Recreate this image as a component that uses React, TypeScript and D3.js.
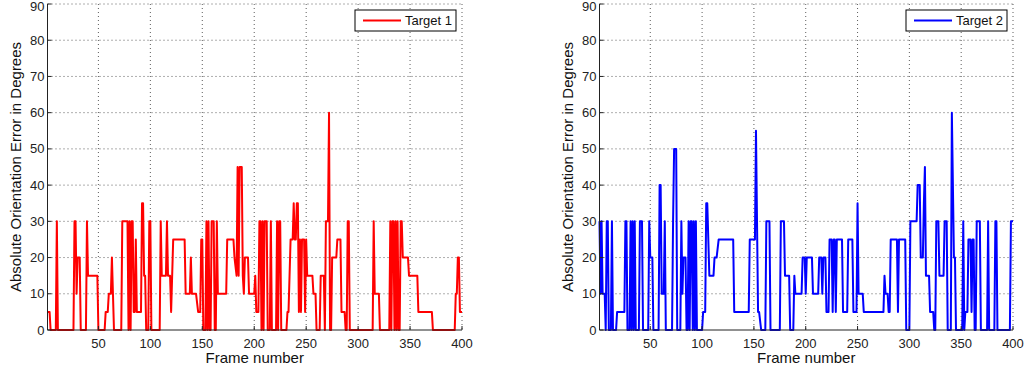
import React from 'react';
import * as d3 from 'd3';

// frame / error pairs (keypoints where the trace turns)
const target1Frames = [1, 3, 4, 9, 10, 11, 26, 27, 28, 29, 30, 32, 33, 38, 39, 40, 49, 50, 56, 57, 59, 60, 62, 63, 64, 65, 72, 73, 78, 79, 80, 81, 82, 83, 84, 85, 86, 87, 91, 92, 93, 94, 95, 96, 98, 99, 100, 101, 109, 110, 111, 115, 116, 117, 119, 120, 122, 133, 134, 138, 139, 140, 144, 146, 148, 149, 150, 151, 153, 154, 155, 156, 157, 158, 159, 161, 162, 163, 164, 165, 173, 174, 180, 181, 183, 184, 185, 186, 188, 189, 190, 191, 194, 195, 200, 201, 202, 204, 205, 206, 207, 208, 209, 210, 212, 213, 215, 216, 217, 221, 222, 223, 224, 225, 226, 231, 232, 233, 235, 237, 238, 239, 240, 241, 242, 243, 244, 245, 246, 248, 249, 250, 251, 256, 257, 259, 260, 263, 264, 267, 268, 269, 271, 272, 273, 274, 275, 279, 280, 283, 284, 287, 288, 289, 290, 291, 292, 314, 315, 316, 320, 321, 330, 331, 332, 333, 334, 335, 336, 337, 338, 339, 340, 341, 342, 343, 348, 349, 357, 358, 371, 372, 393, 394, 395, 396, 397, 398, 400];
const target1Values = [5, 5, 0, 0, 30, 0, 0, 30, 30, 10, 20, 20, 0, 0, 30, 15, 15, 0, 0, 5, 5, 10, 10, 20, 10, 0, 0, 30, 30, 0, 30, 0, 30, 30, 5, 5, 25, 5, 5, 35, 35, 15, 15, 0, 0, 30, 30, 0, 0, 30, 15, 15, 30, 15, 15, 5, 25, 25, 10, 10, 20, 10, 10, 5, 5, 25, 25, 0, 0, 30, 0, 30, 0, 0, 30, 30, 0, 0, 30, 10, 10, 25, 25, 20, 15, 45, 15, 45, 45, 15, 10, 20, 20, 10, 10, 15, 5, 5, 30, 30, 0, 30, 0, 30, 30, 0, 0, 30, 0, 0, 30, 0, 30, 30, 0, 0, 5, 5, 25, 25, 35, 25, 25, 35, 35, 5, 25, 5, 25, 25, 5, 25, 15, 15, 10, 10, 0, 0, 15, 15, 0, 30, 30, 60, 0, 0, 20, 20, 25, 25, 5, 5, 0, 0, 30, 30, 0, 0, 30, 10, 10, 0, 0, 30, 0, 30, 30, 0, 30, 0, 30, 0, 0, 30, 30, 20, 20, 15, 15, 5, 5, 0, 0, 10, 10, 20, 20, 5, 5];

const target2Frames = [1, 2, 3, 4, 6, 7, 8, 9, 10, 12, 13, 14, 17, 18, 25, 26, 27, 28, 30, 31, 32, 33, 34, 35, 36, 39, 40, 42, 43, 48, 49, 50, 52, 53, 58, 59, 60, 61, 63, 64, 65, 71, 72, 73, 75, 76, 79, 80, 81, 82, 84, 85, 86, 87, 88, 89, 90, 91, 92, 93, 94, 95, 100, 101, 103, 104, 105, 107, 111, 112, 114, 116, 130, 131, 145, 146, 151, 152, 154, 155, 157, 161, 162, 165, 166, 175, 176, 179, 180, 184, 185, 188, 189, 190, 196, 197, 199, 200, 201, 206, 207, 212, 213, 215, 216, 217, 219, 220, 222, 223, 225, 226, 227, 228, 229, 230, 235, 236, 240, 241, 245, 246, 249, 250, 251, 255, 256, 275, 276, 277, 279, 280, 281, 282, 288, 289, 290, 296, 297, 300, 301, 307, 308, 310, 311, 313, 314, 315, 316, 319, 320, 323, 324, 325, 326, 328, 329, 333, 334, 336, 337, 340, 341, 343, 344, 345, 351, 352, 353, 354, 356, 357, 359, 360, 361, 362, 363, 364, 365, 368, 369, 375, 376, 377, 382, 383, 384, 385, 397, 398, 400];
const target2Values = [30, 10, 30, 10, 10, 0, 30, 30, 0, 0, 30, 0, 0, 5, 5, 30, 30, 0, 0, 30, 0, 30, 0, 30, 0, 0, 30, 30, 0, 0, 30, 20, 20, 0, 0, 40, 40, 10, 10, 30, 0, 0, 30, 50, 50, 0, 0, 30, 10, 20, 20, 0, 0, 30, 0, 30, 30, 0, 30, 0, 30, 0, 0, 5, 5, 35, 35, 15, 15, 20, 20, 25, 25, 5, 5, 25, 25, 55, 5, 5, 0, 0, 30, 30, 0, 0, 30, 30, 15, 15, 0, 0, 15, 10, 10, 20, 20, 10, 20, 20, 10, 10, 20, 20, 10, 20, 20, 5, 5, 25, 25, 5, 25, 25, 5, 25, 25, 5, 5, 25, 25, 5, 5, 35, 10, 10, 5, 5, 15, 10, 10, 5, 5, 25, 25, 5, 25, 25, 0, 0, 30, 30, 40, 40, 20, 20, 35, 45, 15, 15, 5, 5, 0, 0, 30, 30, 15, 15, 30, 30, 0, 0, 60, 20, 20, 0, 0, 30, 0, 5, 5, 25, 25, 5, 25, 25, 0, 0, 30, 30, 0, 0, 30, 0, 0, 30, 30, 0, 0, 30, 30];

const xTicks = [50, 100, 150, 200, 250, 300, 350, 400];
const yTicks = [0, 10, 20, 30, 40, 50, 60, 70, 80, 90];

const FONT = 'Arial, "Liberation Sans", Helvetica, sans-serif';

type PanelProps = {
  left: number;
  right: number;
  frames: number[];
  values: number[];
  color: string;
  label: string;
};

function Panel({ left, right, frames, values, color, label }: PanelProps) {
  const top = 4;
  const bottom = 330;
  const x = d3.scaleLinear().domain([1, 400]).range([left, right]);
  const y = d3.scaleLinear().domain([0, 90]).range([bottom, top]);
  const pts = frames.map((f, i) => [f, values[i]] as [number, number]);
  const line = d3.line<[number, number]>().x(d => x(d[0])).y(d => y(d[1]));

  const legW = 101;
  const legX = right - 107;
  const legY = 10;

  return (
    <g fontFamily={FONT}>
      {/* dotted grid */}
      {xTicks.map(t => (
        <line key={'gx' + t} x1={x(t)} x2={x(t)} y1={top} y2={bottom}
          stroke="#333" strokeWidth={0.8} strokeDasharray="1 3" />
      ))}
      {yTicks.filter(t => t > 0).map(t => (
        <line key={'gy' + t} x1={left} x2={right} y1={y(t)} y2={y(t)}
          stroke="#333" strokeWidth={0.8} strokeDasharray="1 3" />
      ))}

      <path d={line(pts) || ''} fill="none" stroke={color} strokeWidth={2}
        strokeLinejoin="round" />

      {/* axes */}
      <line x1={left} x2={left} y1={top} y2={bottom} stroke="#222" strokeWidth={1} />
      <line x1={left} x2={right} y1={bottom} y2={bottom} stroke="#222" strokeWidth={1} />
      {xTicks.map(t => (
        <g key={'tx' + t}>
          <line x1={x(t)} x2={x(t)} y1={bottom} y2={bottom - 4} stroke="#222" />
          <text x={x(t)} y={348} fontSize={13} textAnchor="middle" fill="#222">{t}</text>
        </g>
      ))}
      {yTicks.map(t => (
        <g key={'ty' + t}>
          <line x1={left} x2={left + 4} y1={y(t)} y2={y(t)} stroke="#222" />
          <text x={left - 3} y={Math.max(y(t) + 4.5, 10.5)} fontSize={13} textAnchor="end" fill="#222">{t}</text>
        </g>
      ))}

      <text x={(left + right) / 2} y={363} fontSize={15} textAnchor="middle" fill="#111">Frame number</text>
      <text transform={`translate(${left - 27},${(top + bottom) / 2}) rotate(-90)`}
        fontSize={15} textAnchor="middle" fill="#111">Absolute Orientation Error in Degrees</text>

      {/* legend */}
      <rect x={legX} y={legY} width={legW} height={21} fill="#fff" stroke="#000" strokeWidth={1} />
      <line x1={legX + 8} x2={legX + 46} y1={legY + 10.5} y2={legY + 10.5} stroke={color} strokeWidth={2} />
      <text x={legX + 50} y={legY + 15} fontSize={13} fill="#111">{label}</text>
    </g>
  );
}

export default function App() {
  return (
    <div style={{ position: 'absolute', left: 0, top: 0 }}>
      <svg width={1032} height={374} style={{ display: 'block', background: '#fff' }}>
        <Panel left={47.5} right={462} frames={target1Frames} values={target1Values} color="#ff0000" label="Target 1" />
        <Panel left={599.5} right={1013} frames={target2Frames} values={target2Values} color="#0000ff" label="Target 2" />
      </svg>
    </div>
  );
}
